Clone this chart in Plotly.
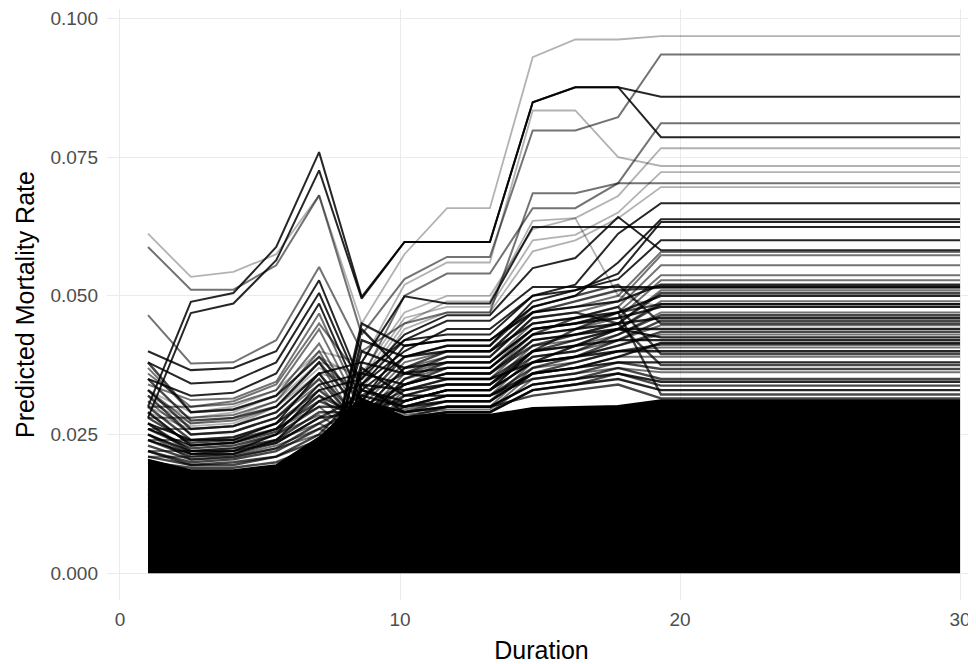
import plotly.graph_objects as go

# duration grid (the curves are flat after 19.3, last point is the right end)
duration = [1.0, 2.53, 4.05, 5.58, 7.11, 8.63, 10.16, 11.68, 13.21, 14.74, 16.26, 17.79, 19.32, 30.0]

# upper edge of the solid black mass of overlapping curves
dense_top = [0.0205, 0.0186, 0.0186, 0.0195, 0.0245, 0.0315, 0.0282, 0.0286, 0.0286, 0.0298, 0.0300, 0.0302, 0.0312, 0.0312]

# dark, prominent curves
dark_lines = [
    [0.0300, 0.0489, 0.0505, 0.0588, 0.0759, 0.0498, 0.0597, 0.0597, 0.0597, 0.0849, 0.0876, 0.0876, 0.0859, 0.0859],
    [0.0280, 0.0469, 0.0486, 0.0564, 0.0726, 0.0495, 0.0597, 0.0597, 0.0597, 0.0849, 0.0876, 0.0876, 0.0786, 0.0786],
    [0.0250, 0.0220, 0.0220, 0.0250, 0.0330, 0.0350, 0.0430, 0.0465, 0.0465, 0.0550, 0.0568, 0.0642, 0.0582, 0.0582],
    [0.0270, 0.0240, 0.0240, 0.0270, 0.0360, 0.0380, 0.0499, 0.0486, 0.0486, 0.0624, 0.0624, 0.0624, 0.0624, 0.0624],
    [0.0260, 0.0230, 0.0235, 0.0260, 0.0340, 0.0360, 0.0420, 0.0455, 0.0455, 0.0516, 0.0516, 0.0516, 0.0516, 0.0516],
    [0.0240, 0.0215, 0.0215, 0.0240, 0.0310, 0.0340, 0.0400, 0.0440, 0.0440, 0.0500, 0.0520, 0.0612, 0.0667, 0.0667],
    [0.0350, 0.0320, 0.0325, 0.0360, 0.0486, 0.0310, 0.0410, 0.0420, 0.0420, 0.0480, 0.0500, 0.0560, 0.0638, 0.0638],
    [0.0380, 0.0342, 0.0346, 0.0380, 0.0505, 0.0330, 0.0390, 0.0410, 0.0410, 0.0490, 0.0510, 0.0540, 0.0633, 0.0633],
    [0.0400, 0.0366, 0.0370, 0.0400, 0.0528, 0.0340, 0.0420, 0.0430, 0.0430, 0.0500, 0.0510, 0.0530, 0.0600, 0.0600],
]

# mid grey curves
grey_lines = [
    [0.0588, 0.0511, 0.0511, 0.0555, 0.0681, 0.0430, 0.0530, 0.0570, 0.0570, 0.0798, 0.0798, 0.0822, 0.0935, 0.0935],
    [0.0465, 0.0378, 0.0380, 0.0420, 0.0552, 0.0400, 0.0450, 0.0470, 0.0470, 0.0685, 0.0685, 0.0703, 0.0703, 0.0703],
    [0.0360, 0.0300, 0.0310, 0.0340, 0.0450, 0.0350, 0.0500, 0.0540, 0.0540, 0.0658, 0.0658, 0.0703, 0.0811, 0.0811],
    [0.0340, 0.0312, 0.0315, 0.0345, 0.0468, 0.0300, 0.0380, 0.0400, 0.0400, 0.0470, 0.0480, 0.0500, 0.0579, 0.0579],
    [0.0300, 0.0300, 0.0305, 0.0330, 0.0440, 0.0290, 0.0370, 0.0390, 0.0390, 0.0460, 0.0470, 0.0490, 0.0573, 0.0573],
    [0.0370, 0.0290, 0.0295, 0.0320, 0.0414, 0.0280, 0.0360, 0.0380, 0.0380, 0.0450, 0.0460, 0.0480, 0.0555, 0.0555],
    [0.0280, 0.0280, 0.0285, 0.0310, 0.0400, 0.0270, 0.0350, 0.0370, 0.0370, 0.0440, 0.0450, 0.0470, 0.0537, 0.0537],
    [0.0330, 0.0270, 0.0275, 0.0300, 0.0380, 0.0260, 0.0340, 0.0360, 0.0360, 0.0430, 0.0440, 0.0460, 0.0528, 0.0528],
    [0.0260, 0.0260, 0.0265, 0.0290, 0.0360, 0.0255, 0.0330, 0.0350, 0.0350, 0.0420, 0.0430, 0.0450, 0.0510, 0.0510],
    [0.0310, 0.0250, 0.0255, 0.0280, 0.0340, 0.0250, 0.0320, 0.0340, 0.0340, 0.0410, 0.0420, 0.0440, 0.0490, 0.0490],
    [0.0240, 0.0240, 0.0245, 0.0270, 0.0320, 0.0245, 0.0310, 0.0330, 0.0330, 0.0400, 0.0410, 0.0430, 0.0470, 0.0470],
    [0.0290, 0.0230, 0.0235, 0.0260, 0.0300, 0.0240, 0.0300, 0.0320, 0.0320, 0.0390, 0.0400, 0.0420, 0.0447, 0.0447],
    [0.0220, 0.0220, 0.0225, 0.0250, 0.0285, 0.0235, 0.0295, 0.0310, 0.0310, 0.0380, 0.0390, 0.0410, 0.0430, 0.0430],
    [0.0270, 0.0215, 0.0220, 0.0240, 0.0270, 0.0230, 0.0290, 0.0300, 0.0300, 0.0370, 0.0380, 0.0400, 0.0407, 0.0407],
    [0.0210, 0.0210, 0.0212, 0.0230, 0.0260, 0.0228, 0.0285, 0.0295, 0.0295, 0.0360, 0.0370, 0.0390, 0.0390, 0.0390],
    [0.0250, 0.0205, 0.0208, 0.0225, 0.0250, 0.0225, 0.0280, 0.0290, 0.0290, 0.0350, 0.0360, 0.0370, 0.0362, 0.0362],
]

# pale curves
light_lines = [
    [0.0612, 0.0534, 0.0543, 0.0575, 0.0681, 0.0450, 0.0575, 0.0658, 0.0658, 0.0930, 0.0962, 0.0962, 0.0968, 0.0968],
    [0.0330, 0.0290, 0.0300, 0.0330, 0.0400, 0.0380, 0.0520, 0.0560, 0.0560, 0.0834, 0.0834, 0.0750, 0.0734, 0.0734],
    [0.0310, 0.0270, 0.0280, 0.0310, 0.0380, 0.0360, 0.0470, 0.0500, 0.0500, 0.0620, 0.0640, 0.0680, 0.0766, 0.0766],
    [0.0290, 0.0260, 0.0265, 0.0300, 0.0360, 0.0340, 0.0450, 0.0490, 0.0490, 0.0635, 0.0640, 0.0500, 0.0480, 0.0480],
    [0.0320, 0.0280, 0.0290, 0.0320, 0.0390, 0.0350, 0.0460, 0.0480, 0.0480, 0.0600, 0.0610, 0.0650, 0.0723, 0.0723],
    [0.0300, 0.0265, 0.0270, 0.0300, 0.0370, 0.0330, 0.0440, 0.0470, 0.0470, 0.0580, 0.0600, 0.0640, 0.0696, 0.0696],
]

# curves low on the left that jump up after 7 years
jump_lines = [
    [0.015, 0.016, 0.016, 0.017, 0.012, 0.045, 0.041, 0.042, 0.042, 0.047, 0.048, 0.049, 0.0520, 0.0520],
    [0.014, 0.015, 0.015, 0.016, 0.010, 0.042, 0.039, 0.040, 0.040, 0.045, 0.046, 0.047, 0.0500, 0.0500],
    [0.016, 0.017, 0.017, 0.018, 0.014, 0.040, 0.037, 0.038, 0.038, 0.044, 0.045, 0.046, 0.0480, 0.0480],
    [0.012, 0.013, 0.013, 0.014, 0.008, 0.038, 0.036, 0.037, 0.037, 0.043, 0.044, 0.045, 0.0460, 0.0460],
    [0.017, 0.017, 0.017, 0.018, 0.015, 0.036, 0.034, 0.036, 0.036, 0.042, 0.043, 0.044, 0.0440, 0.0440],
    [0.013, 0.014, 0.014, 0.015, 0.011, 0.034, 0.033, 0.034, 0.034, 0.040, 0.041, 0.042, 0.0420, 0.0420],
    [0.018, 0.018, 0.018, 0.019, 0.016, 0.033, 0.031, 0.033, 0.033, 0.038, 0.039, 0.040, 0.0400, 0.0400],
    [0.011, 0.012, 0.012, 0.013, 0.009, 0.032, 0.030, 0.031, 0.031, 0.036, 0.037, 0.038, 0.0380, 0.0380],
    [0.016, 0.016, 0.016, 0.017, 0.013, 0.031, 0.029, 0.030, 0.030, 0.034, 0.035, 0.036, 0.0345, 0.0345],
    [0.014, 0.015, 0.015, 0.016, 0.012, 0.030, 0.028, 0.029, 0.029, 0.033, 0.034, 0.035, 0.0330, 0.0330],
    [0.015, 0.015, 0.015, 0.016, 0.012, 0.044, 0.036, 0.035, 0.035, 0.038, 0.041, 0.044, 0.0425, 0.0425],
    [0.013, 0.013, 0.014, 0.015, 0.010, 0.037, 0.032, 0.032, 0.032, 0.036, 0.037, 0.039, 0.0415, 0.0415],
]

# crowded curves just above the black mass
crowd_lines = [
    [0.026, 0.0225, 0.0230, 0.0250, 0.030, 0.030, 0.034, 0.036, 0.036, 0.041, 0.043, 0.045, 0.0505, 0.0505],
    [0.024, 0.0210, 0.0215, 0.0235, 0.028, 0.029, 0.033, 0.035, 0.035, 0.040, 0.042, 0.044, 0.0485, 0.0485],
    [0.028, 0.0235, 0.0240, 0.0260, 0.031, 0.028, 0.032, 0.034, 0.034, 0.039, 0.040, 0.043, 0.0465, 0.0465],
    [0.022, 0.0200, 0.0205, 0.0220, 0.026, 0.030, 0.031, 0.033, 0.033, 0.038, 0.039, 0.042, 0.0455, 0.0455],
    [0.030, 0.0240, 0.0245, 0.0270, 0.033, 0.027, 0.030, 0.032, 0.032, 0.037, 0.039, 0.041, 0.0435, 0.0435],
    [0.023, 0.0205, 0.0210, 0.0225, 0.027, 0.031, 0.029, 0.031, 0.031, 0.036, 0.038, 0.040, 0.0412, 0.0412],
    [0.027, 0.0220, 0.0225, 0.0240, 0.029, 0.029, 0.034, 0.037, 0.037, 0.043, 0.046, 0.048, 0.0395, 0.0395],
    [0.025, 0.0215, 0.0220, 0.0235, 0.028, 0.032, 0.036, 0.039, 0.039, 0.046, 0.047, 0.045, 0.0375, 0.0375],
    [0.021, 0.0195, 0.0200, 0.0210, 0.025, 0.033, 0.030, 0.032, 0.032, 0.035, 0.036, 0.038, 0.0368, 0.0368],
    [0.029, 0.0230, 0.0235, 0.0255, 0.032, 0.028, 0.028, 0.030, 0.030, 0.034, 0.035, 0.037, 0.0350, 0.0350],
    [0.022, 0.0195, 0.0195, 0.0210, 0.024, 0.030, 0.028, 0.029, 0.029, 0.033, 0.034, 0.036, 0.0338, 0.0338],
    [0.032, 0.0250, 0.0255, 0.0280, 0.035, 0.026, 0.031, 0.033, 0.033, 0.040, 0.044, 0.047, 0.0322, 0.0322],
    [0.020, 0.0190, 0.0190, 0.0200, 0.023, 0.034, 0.029, 0.030, 0.030, 0.032, 0.033, 0.034, 0.0315, 0.0315],
    [0.033, 0.0260, 0.0265, 0.0290, 0.036, 0.027, 0.035, 0.038, 0.038, 0.044, 0.045, 0.047, 0.0485, 0.0485],
    [0.035, 0.0275, 0.0280, 0.0300, 0.038, 0.029, 0.037, 0.040, 0.040, 0.047, 0.049, 0.051, 0.0515, 0.0515],
    [0.038, 0.0290, 0.0295, 0.0320, 0.039, 0.031, 0.039, 0.041, 0.041, 0.048, 0.050, 0.052, 0.0450, 0.0450],
]

x_ticks = [0, 10, 20, 30]
y_ticks = [0.0, 0.025, 0.05, 0.075, 0.1]

fig = go.Figure()

fig.add_trace(go.Scatter(x=duration, y=dense_top, mode="lines", fill="tozeroy",
                         fillcolor="black", line=dict(color="black", width=1.5),
                         hoverinfo="skip"))

groups = [
    (crowd_lines, "rgba(0,0,0,0.72)", 2.4),
    (jump_lines, "rgba(0,0,0,0.85)", 2.4),
    (light_lines, "rgba(0,0,0,0.30)", 1.8),
    (grey_lines, "rgba(0,0,0,0.55)", 2.0),
    (dark_lines, "rgba(0,0,0,0.85)", 2.0),
]
for lines, colour, width in groups:
    for ys in lines:
        fig.add_trace(go.Scatter(x=duration, y=ys, mode="lines",
                                 line=dict(color=colour, width=width)))

# the page body has an 8px margin, so the figure is drawn 8px smaller
fig.update_layout(
    width=968, height=656,
    margin=dict(l=99, r=0, t=1, b=64),
    paper_bgcolor="white", plot_bgcolor="white",
    showlegend=False,
    font=dict(family="Liberation Sans, Arial, sans-serif"),
)
fig.update_xaxes(
    range=[-0.464, 30.57], tickvals=x_ticks, showgrid=True, gridcolor="#ebebeb",
    gridwidth=1.2, zeroline=False, showline=False, ticks="",
    tickfont=dict(size=19, color="#4d4d4d"), ticklabelstandoff=6,
    title=dict(text="Duration", font=dict(size=25, color="black"), standoff=12),
    automargin=False,
)
fig.update_yaxes(
    range=[-0.00484, 0.1017], tickvals=y_ticks, tickformat=".3f", showgrid=True,
    gridcolor="#ebebeb", gridwidth=1.2, zeroline=False, showline=False, ticks="",
    tickfont=dict(size=19, color="#4d4d4d"), ticklabelstandoff=8,
    title=dict(text="Predicted Mortality Rate", font=dict(size=25, color="black"), standoff=8),
    automargin=False,
)

fig.write_html("out.html")
